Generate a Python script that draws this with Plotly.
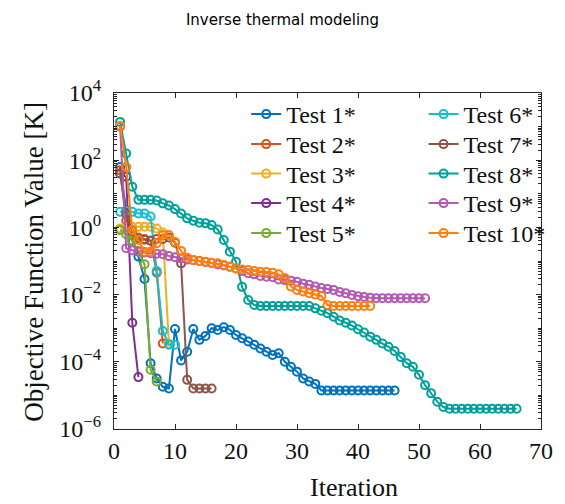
import plotly.graph_objects as go

# ---------------- data ----------------
test1 = [63, 3.2, 0.4, 0.135, 0.029, 9.1e-5, 3.2e-5, 1.8e-5, 1.6e-5, 9.5e-4,
         1.1e-4, 2.0e-4, 9.5e-4, 4.5e-4, 5.9e-4, 1.0e-3, 8.9e-4, 1.07e-3, 8.9e-4, 6.3e-4,
         5.0e-4, 4.0e-4, 3.2e-4, 2.5e-4, 2.0e-4, 1.6e-4, 1.8e-4, 1.0e-4, 7.1e-5, 5.1e-5,
         3.2e-5, 2.6e-5, 2.2e-5, 1.4e-5, 1.4e-5, 1.4e-5, 1.4e-5, 1.4e-5, 1.4e-5, 1.4e-5,
         1.4e-5, 1.4e-5, 1.4e-5, 1.4e-5, 1.4e-5, 1.4e-5]
test2 = [50, 1.6, 0.63, 0.5, 0.45, 0.4, 0.045, 3.5e-4]
test3 = [0.93, 1.0, 1.05, 1.05, 1.05, 1.05, 0.93, 0.7, 3.5e-4]
test4 = [40, 32, 1.45e-3, 3.5e-5]
test5 = [0.83, 0.63, 0.4, 0.2, 0.08, 5.8e-5, 2.6e-5]
test6 = [2.9, 3.1, 2.9, 2.6, 2.6, 2.1, 0.05, 8.3e-4, 3.2e-4, 3.2e-4]
test7 = [40, 2.5, 0.8, 0.45, 0.43, 0.4, 0.45, 0.45, 0.5, 0.35,
         0.085, 2.9e-5, 1.6e-5, 1.6e-5, 1.6e-5, 1.6e-5]
test8 = [1380, 158, 16.2, 6.6, 6.6, 6.6, 6.3, 5.2, 4.5, 3.5,
         2.6, 1.86, 1.58, 1.38, 1.32, 1.17, 0.87, 0.42, 0.19, 0.095,
         0.017, 0.0069, 0.0049, 0.0046, 0.0046, 0.0046, 0.0046, 0.0046, 0.0046, 0.0046,
         0.0046, 0.0046, 0.0039, 0.0033, 0.0028, 0.0022, 0.0017, 0.00145, 0.0012, 9.3e-4,
         7.4e-4, 5.6e-4, 4.5e-4, 3.5e-4, 2.8e-4, 2.1e-4, 1.4e-4, 9.1e-5, 7.1e-5, 4.1e-5,
         2.0e-5, 1.15e-5, 6.5e-6, 4.5e-6, 4.0e-6, 4.0e-6, 4.0e-6, 4.0e-6, 4.0e-6, 4.0e-6,
         4.0e-6, 4.0e-6, 4.0e-6, 4.0e-6, 4.0e-6, 4.0e-6]
test9 = [1000, 0.24, 0.21, 0.19, 0.18, 0.17, 0.165, 0.16, 0.14, 0.13,
         0.12, 0.11, 0.105, 0.1, 0.093, 0.087, 0.079, 0.074, 0.068, 0.06,
         0.05, 0.043, 0.04, 0.036, 0.034, 0.033, 0.028, 0.027, 0.026, 0.024,
         0.021, 0.0195, 0.0174, 0.0158, 0.0148, 0.0138, 0.012, 0.011, 0.0098, 0.0089,
         0.0085, 0.0081, 0.0078, 0.0078, 0.0078, 0.0078, 0.0078, 0.0078, 0.0078, 0.0078,
         0.0078]
test10 = [1050, 63, 0.83, 0.42, 0.19, 0.19, 0.34, 0.59, 0.59, 0.37,
          0.2, 0.126, 0.107, 0.1, 0.095, 0.089, 0.085, 0.076, 0.068, 0.06,
          0.056, 0.054, 0.05, 0.048, 0.047, 0.045, 0.04, 0.031, 0.0174, 0.0138,
          0.0123, 0.011, 0.01, 0.0091, 0.0049, 0.0046, 0.0046, 0.0046, 0.0046, 0.0046,
          0.0046, 0.0046]

series_names = ["Test 1*", "Test 2*", "Test 3*", "Test 4*", "Test 5*",
                "Test 6*", "Test 7*", "Test 8*", "Test 9*", "Test 10*"]
series_values = [test1, test2, test3, test4, test5, test6, test7, test8, test9, test10]
series_colors = ["#0072BD", "#D95319", "#EDB120", "#7E2F8E", "#77AC30",
                 "#17BECF", "#8C564B", "#00A19A", "#B35AB3", "#FF7F0E"]

x_ticks = [0, 10, 20, 30, 40, 50, 60, 70]
y_ticks = [1e-6, 1e-4, 1e-2, 1e0, 1e2, 1e4]
y_ticktext = ["10<sup>−6</sup>", "10<sup>−4</sup>", "10<sup>−2</sup>",
              "10<sup>0</sup>", "10<sup>2</sup>", "10<sup>4</sup>"]

SERIF = "Liberation Serif"
AX = "#262626"
TXT = "#111111"

fig = go.Figure()
legend_ids = ["legend"] + ["legend%d" % k for k in range(2, 11)]
for i, (name, vals, col) in enumerate(zip(series_names, series_values, series_colors)):
    fig.add_trace(go.Scatter(
        x=list(range(1, len(vals) + 1)), y=vals, name=name,
        mode="lines+markers", showlegend=True,
        line=dict(color=col, width=2),
        marker=dict(symbol="circle-open", size=8, color=col, line=dict(width=2, color=col)),
        legend=legend_ids[i],
    ))

# minor ticks: 2..9 within each decade plus the odd decades
minor_y = [k * 10.0 ** e for e in range(-6, 4) for k in range(2, 10)] + \
          [1e-5, 1e-3, 1e-1, 1e1, 1e3]

# legend layout: two columns of five rows (pixel rows -> paper coords)
row_centers = [115, 145, 174.5, 204, 234]
col_x = [0.3096, 0.725]
legend_layouts = {}
for i, lid in enumerate(legend_ids):
    col = i // 5
    row = i % 5
    top_px = row_centers[row] - 23
    legend_layouts[lid] = dict(
        x=col_x[col], y=(429 - top_px) / 336, xanchor="left", yanchor="top",
        bgcolor="rgba(0,0,0,0)", borderwidth=0, visible=True,
        font=dict(family=SERIF, size=24, color=TXT))

fig.update_layout(
    width=565, height=504,
    showlegend=True,
    margin=dict(l=114, r=15, t=93, b=75),
    paper_bgcolor="white", plot_bgcolor="white",
    title=dict(text="Inverse thermal modeling", x=0.5, xref="container", xanchor="center",
               y=1 - 20 / 504, yref="container", yanchor="middle",
               font=dict(family="DejaVu Sans", size=15, color="black")),
    xaxis=dict(range=[0, 70], tickmode="array", tickvals=x_ticks,
               ticks="inside", ticklen=5, tickwidth=1, tickcolor=AX,
               showline=True, linecolor=AX, linewidth=1, mirror="allticks",
               showgrid=False, zeroline=False,
               tickfont=dict(family=SERIF, size=24, color=TXT)),
    yaxis=dict(type="log", range=[-6, 4], tickmode="array", tickvals=y_ticks,
               ticktext=y_ticktext, ticklabelstandoff=7,
               ticks="inside", ticklen=5, tickwidth=1, tickcolor=AX,
               showline=True, linecolor=AX, linewidth=1, mirror="allticks",
               showgrid=False, zeroline=False,
               minor=dict(tickmode="array", tickvals=minor_y, ticks="inside",
                          ticklen=3, tickcolor=AX, showgrid=False),
               tickfont=dict(family=SERIF, size=24, color=TXT)),
    annotations=[
        dict(text="Iteration", x=0.562, y=(429 - 487) / 336, xref="paper", yref="paper",
             xanchor="center", yanchor="middle", showarrow=False,
             font=dict(family=SERIF, size=26, color=TXT)),
        dict(text="Objective Function Value [K]", x=-0.188, y=0.497,
             xref="paper", yref="paper", textangle=-90,
             xanchor="center", yanchor="middle", showarrow=False,
             font=dict(family=SERIF, size=27, color=TXT)),
    ],
    **legend_layouts,
)

fig.write_html("out.html")
